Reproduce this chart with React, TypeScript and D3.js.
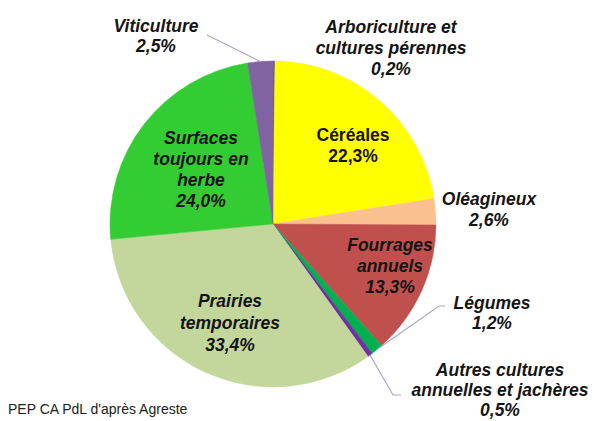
import React from "react";
import * as d3 from "d3";

const categories = [
  "Arboriculture et cultures pérennes",
  "Céréales",
  "Oléagineux",
  "Fourrages annuels",
  "Légumes",
  "Autres cultures annuelles et jachères",
  "Prairies temporaires",
  "Surfaces toujours en herbe",
  "Viticulture",
];
const values = [0.2, 22.3, 2.6, 13.3, 1.2, 0.5, 33.4, 24.0, 2.5];
const colors = ["#7a5c7e", "#ffff00", "#fac090", "#c0504d", "#00b050", "#7030a0", "#c3d69b", "#33cc33", "#8064a2"];
const labelLines = [
  ["Arboriculture et", "cultures pérennes"],
  ["Céréales"],
  ["Oléagineux"],
  ["Fourrages", "annuels"],
  ["Légumes"],
  ["Autres cultures", "annuelles et jachères"],
  ["Prairies", "temporaires"],
  ["Surfaces", "toujours en", "herbe"],
  ["Viticulture"],
];
const source = "PEP CA PdL d'après Agreste";

// layout (positions only)
const W = 594, H = 421;
const cx = 273, cy = 224, R = 163;
const layout = [
  { x: 391, y: 33, lh: 21, italic: true },
  { x: 353, y: 141, lh: 21, italic: false },
  { x: 489, y: 205, lh: 21, italic: true },
  { x: 390, y: 251, lh: 21, italic: true },
  { x: 492, y: 309, lh: 20, italic: true },
  { x: 500, y: 376, lh: 20, italic: true },
  { x: 230, y: 307, lh: 22, italic: true },
  { x: 201, y: 144, lh: 21, italic: true },
  { x: 156, y: 32, lh: 20, italic: true },
];
// leader lines: [elbow points] from label toward slice edge
const leaders: { [k: number]: [number, number][] } = {
  8: [[207, 35]],
  4: [[445, 306], [439, 306]],
  5: [[401, 395], [393, 395]],
};

const fr = d3.formatLocale({ decimal: ",", thousands: " ", grouping: [3], currency: ["", "€"] });
const fmt = (v: number) => fr.format(".1f")(v) + "%";

export default function App() {
  const pie = d3.pie<number>().sort(null).value((d) => d).startAngle(0).endAngle(2 * Math.PI);
  const arcs = pie(values);
  const arc = d3.arc<d3.PieArcDatum<number>>().innerRadius(0).outerRadius(R);
  const font = "'Liberation Sans', Arial, sans-serif";

  return (
    <svg width={W} height={H} style={{ position: "absolute", left: 0, top: 0, background: "#fff" }}>
      <rect width={W} height={H} fill="#fff" />
      <g transform={`translate(${cx},${cy})`}>
        {arcs.map((a, i) => (
          <path key={i} d={arc(a) || ""} fill={colors[i]} stroke={colors[i]} strokeWidth={0.5} />
        ))}
      </g>
      {Object.keys(leaders).map((k) => {
        const i = +k;
        const a = arcs[i];
        const mid = (a.startAngle + a.endAngle) / 2;
        const ex = cx + R * Math.sin(mid);
        const ey = cy - R * Math.cos(mid);
        const pts = [...leaders[i], [ex, ey]];
        return (
          <path
            key={"l" + k}
            d={d3.line()(pts as [number, number][]) || ""}
            fill="none"
            stroke="#a9a6c4"
            strokeWidth={1.2}
          />
        );
      })}
      {labelLines.map((lines, i) => {
        const L = layout[i];
        const all = [...lines, fmt(values[i])];
        return (
          <text
            key={"t" + i}
            x={L.x}
            y={L.y}
            textAnchor="middle"
            fontFamily={font}
            fontSize={17.5}
            fontWeight="bold"
            fontStyle={L.italic ? "italic" : "normal"}
            fill="#141414"
          >
            {all.map((s, j) => (
              <tspan key={j} x={L.x} y={L.y + j * L.lh}>
                {s}
              </tspan>
            ))}
          </text>
        );
      })}
      <text x={8} y={414} fontFamily={font} fontSize={14} fill="#222">
        {source}
      </text>
    </svg>
  );
}
